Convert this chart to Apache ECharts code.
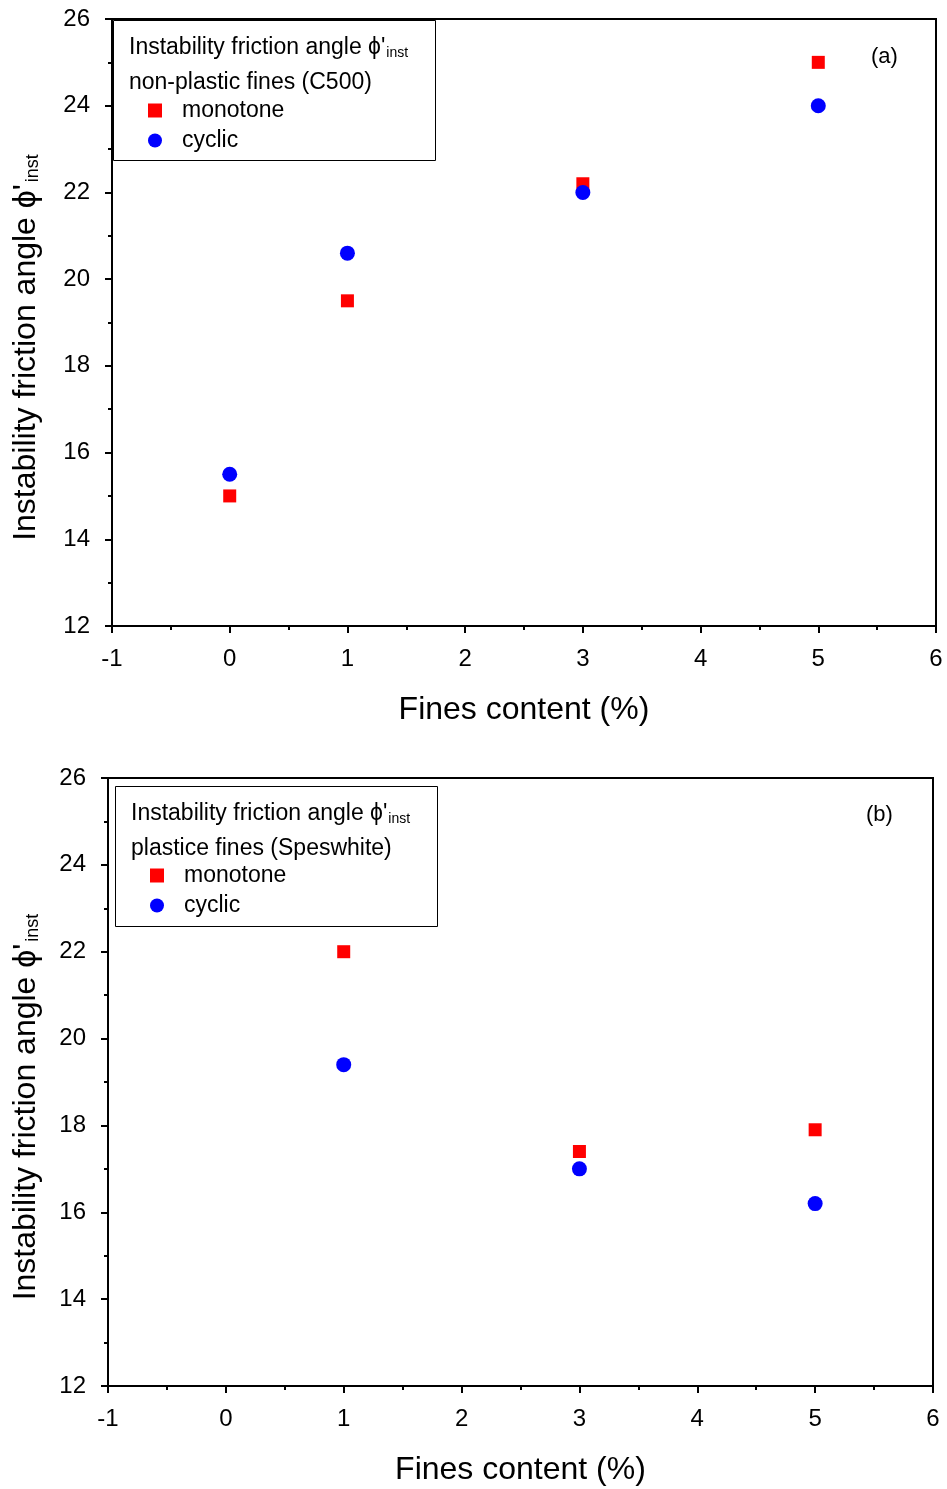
<!DOCTYPE html>
<html><head><meta charset="utf-8">
<script src="https://cdn.jsdelivr.net/npm/echarts@6/dist/echarts.min.js"></script>
<style>html,body{margin:0;padding:0;background:#fff}#c{width:947px;height:1489px}</style>
</head><body><div id="c"></div>
<script>
const fines = [0, 1, 3, 5];
const monotoneA = [15.0, 19.5, 22.2, 25.0];
const cyclicA = [15.5, 20.6, 22.0, 24.0];
const finesB = [1, 3, 5];
const monotoneB = [22.0, 17.4, 17.9];
const cyclicB = [19.4, 17.0, 16.2];
const xTitle = 'Fines content (%)';
const legendA = 'non-plastic fines (C500)';
const legendB = 'plastice fines (Speswhite)';

const FONT = '"Liberation Sans", Arial, sans-serif';
const pair = (xs, ys) => xs.map((x, i) => [x, ys[i]]);

function xAxis(gi) {
  return {
    gridIndex: gi, type: 'value', min: -1, max: 6, interval: 1,
    name: xTitle, nameLocation: 'middle', nameGap: 68,
    nameTextStyle: {fontFamily: FONT, fontSize: 32, color: '#000'},
    axisLine: {onZero: false, lineStyle: {color: '#000', width: 2}},
    axisTick: {inside: false, length: 7, lineStyle: {color: '#000', width: 2}},
    minorTick: {show: true, splitNumber: 2, length: 4, lineStyle: {color: '#000', width: 2}},
    axisLabel: {fontFamily: FONT, fontSize: 24, color: '#000', margin: 21},
    splitLine: {show: false}
  };
}
function yAxis(gi, gap) {
  return {
    gridIndex: gi, type: 'value', min: 12, max: 26, interval: 2,
    name: '{a|Instability friction angle ϕ\'}{s|inst}', nameLocation: 'middle', nameGap: gap, nameRotate: 90,
    nameTextStyle: {fontFamily: FONT, fontSize: 32, color: '#000',
      rich: {a: {fontFamily: FONT, fontSize: 32, color: '#000'},
             s: {fontFamily: FONT, fontSize: 18, color: '#000', verticalAlign: 'bottom', padding: [14, 50, 0, 2]}}},
    axisLine: {onZero: false, lineStyle: {color: '#000', width: 2}},
    axisTick: {inside: false, length: 7, lineStyle: {color: '#000', width: 2}},
    minorTick: {show: true, splitNumber: 2, length: 4, lineStyle: {color: '#000', width: 2}},
    axisLabel: {fontFamily: FONT, fontSize: 24, color: '#000', margin: 22},
    splitLine: {show: false}
  };
}

function legendBox(x, y, line2, tag, tx, ty) {
  return [
    {type: 'rect', left: x, top: y, shape: {width: 322, height: 140}, style: {fill: '#fff', stroke: '#000', lineWidth: 1}, z: 10},
    {type: 'text', left: x + 16, top: y + 16, z: 11, style: {
      text: '{a|Instability friction angle ϕ\'}{s|inst}',
      rich: {a: {fontFamily: FONT, fontSize: 23, fill: '#000'}, s: {fontFamily: FONT, fontSize: 14, fill: '#000', verticalAlign: 'bottom', padding: [11, 0, 0, 1]}}}},
    {type: 'text', left: x + 16, top: y + 51, z: 11, style: {text: line2, font: '23px ' + FONT, fill: '#000'}},
    {type: 'text', left: tx, top: ty, z: 11, style: {text: tag, font: '22px ' + FONT, fill: '#000'}}
  ];
}

const legendCommon = {
  orient: 'vertical', itemWidth: 14, itemHeight: 14, itemGap: 7, z: 12,
  textStyle: {fontFamily: FONT, fontSize: 23, color: '#000', padding: [0, 0, 0, 15]},
  data: [{name: 'monotone', icon: 'rect'}, {name: 'cyclic', icon: 'circle'}],
  selectedMode: false
};

const chart = echarts.init(document.getElementById('c'));
chart.setOption({
  animation: false,
  backgroundColor: '#fff',
  grid: [
    {left: 112, right: 11, top: 19, height: 607, show: true, borderColor: '#000', borderWidth: 2, backgroundColor: 'transparent'},
    {left: 108, right: 14, top: 778, height: 608, show: true, borderColor: '#000', borderWidth: 2, backgroundColor: 'transparent'}
  ],
  xAxis: [xAxis(0), xAxis(1)],
  yAxis: [yAxis(0, 70), yAxis(1, 66)],
  legend: [
    Object.assign({left: 143, top: 94}, legendCommon),
    Object.assign({left: 145, top: 859}, legendCommon)
  ],
  graphic: [].concat(legendBox(113, 20, legendA, '(a)', 871, 46), legendBox(115, 786, legendB, '(b)', 866, 804)),
  series: [
    {name: 'monotone', type: 'scatter', xAxisIndex: 0, yAxisIndex: 0, symbol: 'rect', symbolSize: 13, itemStyle: {color: '#ff0000', opacity: 1}, data: pair(fines, monotoneA)},
    {name: 'cyclic', type: 'scatter', xAxisIndex: 0, yAxisIndex: 0, symbol: 'circle', symbolSize: 15, itemStyle: {color: '#0000ff', opacity: 1}, data: pair(fines, cyclicA)},
    {name: 'monotone', type: 'scatter', xAxisIndex: 1, yAxisIndex: 1, symbol: 'rect', symbolSize: 13, itemStyle: {color: '#ff0000', opacity: 1}, data: pair(finesB, monotoneB)},
    {name: 'cyclic', type: 'scatter', xAxisIndex: 1, yAxisIndex: 1, symbol: 'circle', symbolSize: 15, itemStyle: {color: '#0000ff', opacity: 1}, data: pair(finesB, cyclicB)}
  ]
});
</script></body></html>
